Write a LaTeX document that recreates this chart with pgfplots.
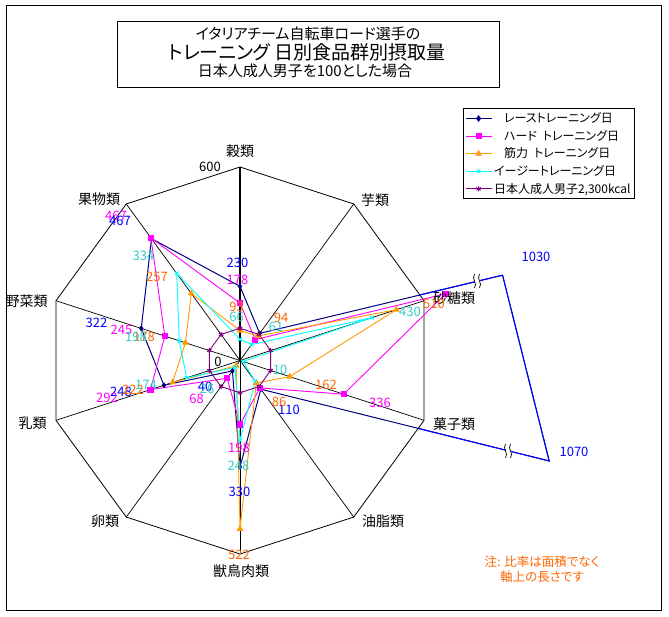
\documentclass[border=0pt]{standalone}
\usepackage{fontspec}
\setmainfont[RawFeature={+palt}]{Noto Sans CJK JP}
\usepackage{pgfplots}
\pgfplotsset{compat=1.18}
\usepgfplotslibrary{polar}
\definecolor{cNavy}{RGB}{0,0,128}
\definecolor{cMag}{RGB}{255,0,255}
\definecolor{cOra}{RGB}{255,153,0}
\definecolor{cCya}{RGB}{0,255,255}
\definecolor{cPur}{RGB}{128,0,128}
\definecolor{tBlue}{RGB}{0,0,255}
\definecolor{tOra}{RGB}{255,102,0}
\definecolor{tCya}{RGB}{51,204,204}
\newcommand\dl[4]{\node[text=#3,font=\fontsize{13}{13}\selectfont,inner sep=0pt] at (#1,#2) {#4};}
\newcommand\cat[3]{\node[font=\fontsize{14}{14}\selectfont,inner sep=0pt] at (#1,#2) {#3};}
\newcommand\brk[2]{%
  \fill[white] (#1-2.5,#2-6) rectangle (#1+2.5,#2+6);
  \draw[black,line width=0.7pt] (#1-2.5,#2-7) .. controls (#1-6,#2-2) and (#1+1,#2+2) .. (#1-2.5,#2+7);
  \draw[black,line width=0.7pt] (#1+2.5,#2-7) .. controls (#1-1,#2-2) and (#1+6,#2+2) .. (#1+2.5,#2+7);}
\begin{document}
\begin{tikzpicture}
\begin{axis}[
  x=0.3225pt, y=0.3225pt,
  xmin=-744.2, xmax=1330.2, ymin=-792.2, ymax=1117.8,
  hide axis, clip=false, enlargelimits=false,
  legend style={at={(0.6916,0.8242)}, anchor=north west, draw=black, line width=0.8pt,
    font=\fontsize{12}{13}\selectfont, row sep=2pt, inner sep=2pt, cells={anchor=west}},
  legend cell align=left,
  legend image code/.code={\draw[#1, mark repeat=2, mark phase=2] plot coordinates {(0pt,0pt)(13pt,0pt)(26pt,0pt)};},
]
% spokes and outer decagon (axis maximum 600)
\addplot[black, line width=1.4pt, forget plot, data cs=polar] coordinates {(90,0)(90,600)};
\addplot[black, line width=0.7pt, forget plot, data cs=polar] coordinates {(54,0)(54,600)};
\addplot[black, line width=0.7pt, forget plot, data cs=polar] coordinates {(18,0)(18,600)};
\addplot[black, line width=0.7pt, forget plot, data cs=polar] coordinates {(-18,0)(-18,600)};
\addplot[black, line width=0.7pt, forget plot, data cs=polar] coordinates {(-54,0)(-54,600)};
\addplot[black, line width=0.7pt, forget plot, data cs=polar] coordinates {(-90,0)(-90,600)};
\addplot[black, line width=0.7pt, forget plot, data cs=polar] coordinates {(-126,0)(-126,600)};
\addplot[black, line width=0.7pt, forget plot, data cs=polar] coordinates {(-162,0)(-162,600)};
\addplot[black, line width=0.7pt, forget plot, data cs=polar] coordinates {(162,0)(162,600)};
\addplot[black, line width=0.7pt, forget plot, data cs=polar] coordinates {(126,0)(126,600)};
\addplot[black, line width=0.8pt, forget plot, data cs=polar] coordinates {(90,600)(54,600)(18,600)(-18,600)(-54,600)(-90,600)(-126,600)(-162,600)(162,600)(126,600)(90,600)};
% Race training day (1030 and 1070 are drawn foreshortened behind axis breaks, at 856 and 1008)
\addplot[cNavy, line width=1pt, forget plot, data cs=polar] coordinates {(90,230)(54,104)(18,856)(-18,1008)(-54,110)(-90,330)(-126,40)(-162,248)(162,322)(126,467)(90,230)};
\addplot[tBlue, line width=1pt, forget plot, data cs=polar] coordinates {(20.04,593.5)(18,856)(-18,1008)(-20.87,591)};
\addplot[cNavy, only marks, mark=diamond*, mark size=2.6pt, forget plot, data cs=polar] coordinates {(90,230)(54,104)(-54,110)(-90,330)(-126,40)(-162,248)(162,322)(126,467)};
% Hard training day
\addplot[cMag, line width=0.9pt, mark=square*, mark size=2.6pt, mark options={solid}, forget plot, data cs=polar] coordinates {(90,178)(54,80)(18,670)(-18,338)(-54,105)(-90,198)(-126,68)(-162,292)(162,245)(126,470)(90,178)};
% Strength training day
\addplot[cOra, line width=0.9pt, mark=triangle*, mark size=3pt, mark options={solid}, forget plot, data cs=polar] coordinates {(90,93)(54,94)(18,510)(-18,162)(-54,86)(-90,522)(-126,20)(-162,220)(162,178)(126,257)(90,93)};
% Easy training day
\addplot[cCya, line width=0.9pt, mark=x, mark size=2.6pt, mark options={solid}, forget plot, data cs=polar] coordinates {(90,66)(54,61)(18,430)(-18,10)(-54,80)(-90,248)(-126,26)(-162,174)(162,198)(126,334)(90,66)};
% Japanese adult male = 100
\addplot[cPur, line width=0.9pt, mark=asterisk, mark size=2.6pt, mark options={solid}, forget plot, data cs=polar] coordinates {(90,100)(54,100)(18,100)(-18,100)(-54,100)(-90,100)(-126,100)(-162,100)(162,100)(126,100)(90,100)};
\addlegendimage{cNavy, line width=1pt, mark=diamond*, mark size=2.6pt}
\addlegendentry{\hspace{10pt}レーストレーニング日}
\addlegendimage{cMag, line width=0.9pt, mark=square*, mark size=2.6pt}
\addlegendentry{\hspace{10pt}ハード\hspace{6pt}トレーニング日}
\addlegendimage{cOra, line width=0.9pt, mark=triangle*, mark size=3pt}
\addlegendentry{\hspace{10pt}筋力\hspace{6pt}トレーニング日}
\addlegendimage{cCya, line width=0.9pt, mark=x, mark size=2.6pt}
\addlegendentry{イージートレーニング日}
\addlegendimage{cPur, line width=0.9pt, mark=asterisk, mark size=2.6pt}
\addlegendentry{日本人成人男子2,300kcal}
\end{axis}
\begin{scope}[yshift=616pt, x=1pt, y=-1pt]
% frame and title
\draw[line width=0.8pt] (6,5.5) rectangle (661,610);
\draw[line width=0.8pt] (117,21) rectangle (499,87);
\node[font=\fontsize{15}{15}\selectfont,inner sep=0pt] at (308,34) {イタリアチーム自転車ロード選手の};
\node[font=\fontsize{19}{19}\selectfont,inner sep=0pt] at (307,52.5) {トレーニング\hspace{4pt}日別食品群別摂取量};
\node[font=\fontsize{15}{15}\selectfont,inner sep=0pt] at (305,71) {日本人成人男子を100とした場合};
% axis breaks
\brk{477}{281}
\brk{508}{451}
% category names
\cat{240}{151}{穀類}
\cat{375}{200}{芋類}
\cat{454}{298}{砂糖類}
\cat{454}{424}{菓子類}
\cat{383}{521}{油脂類}
\cat{241}{571}{獣鳥肉類}
\cat{105}{521}{卵類}
\cat{32.5}{423}{乳類}
\cat{26.5}{301}{野菜類}
\cat{99}{199}{果物類}
\dl{210}{167}{black}{600}
\dl{218}{362}{black}{0}
% data labels
\dl{237.5}{263}{tBlue}{230}
\dl{96.5}{323}{tBlue}{322}
\dl{239.5}{492}{tBlue}{330}
\dl{289}{410}{tBlue}{110}
\dl{121}{392}{tBlue}{248}
\dl{205}{387}{tBlue}{40}
\dl{536}{257}{tBlue}{1030}
\dl{574}{452}{tBlue}{1070}
\dl{116}{216}{cMag}{467}
\dl{120}{221}{tBlue}{467}
\dl{237.5}{280}{cMag}{178}
\dl{121.5}{330}{cMag}{245}
\dl{107}{398}{cMag}{292}
\dl{196.5}{399}{cMag}{68}
\dl{239}{448}{cMag}{198}
\dl{380}{403}{cMag}{336}
\dl{236.5}{307}{tOra}{93}
\dl{281}{318}{tOra}{94}
\dl{434}{304}{tOra}{510}
\dl{326}{385}{tOra}{162}
\dl{279}{402}{tOra}{86}
\dl{239}{555}{tOra}{522}
\dl{133}{390}{tOra}{222}
\dl{144}{337}{tOra}{178}
\dl{157}{277}{tOra}{257}
\dl{236.5}{317}{tCya}{66}
\dl{276}{327}{tCya}{61}
\dl{410}{312}{tCya}{430}
\dl{280}{370}{tCya}{10}
\dl{238.5}{466}{tCya}{248}
\dl{146}{385}{tCya}{174}
\dl{136}{337}{tCya}{198}
\dl{143.5}{256}{tCya}{334}
\dl{207}{389}{tCya}{26}
% note
\node[text=tOra,font=\fontsize{12.5}{15}\selectfont,align=center,inner sep=0pt] at (542,569) {注: 比率は面積でなく\\軸上の長さです};
\end{scope}
\pgfresetboundingbox
\path (0,0) rectangle (669pt,616pt);
\end{tikzpicture}
\end{document}
